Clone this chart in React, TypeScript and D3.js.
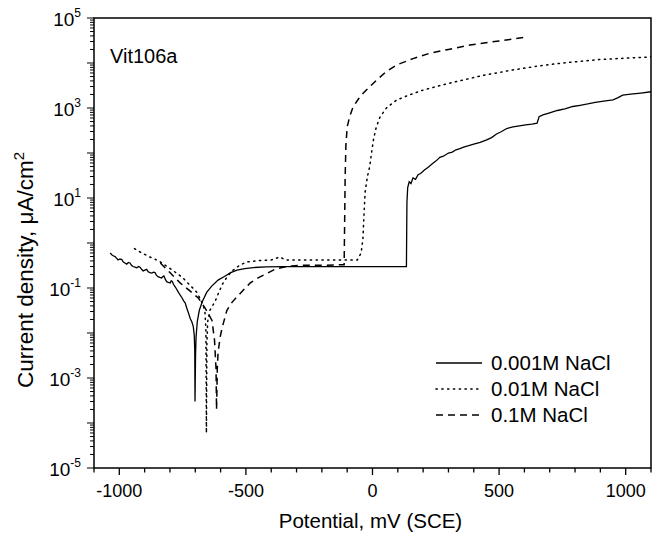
import React from 'react';
import * as d3 from 'd3';

// potential (mV) vs current density (uA/cm2)
const series001: [number, number][] = [
  [-1036, 0.6], [-1030, 0.55], [-1024, 0.52], [-1017, 0.5], [-1011, 0.46], [-1005, 0.42], [-998, 0.44],
  [-990, 0.43], [-985, 0.38], [-978, 0.36], [-971, 0.34], [-964, 0.37], [-958, 0.36], [-952, 0.32],
  [-946, 0.3], [-938, 0.29], [-931, 0.28], [-924, 0.3], [-918, 0.29], [-912, 0.26], [-906, 0.24],
  [-899, 0.25], [-892, 0.26], [-886, 0.23], [-879, 0.22], [-872, 0.215], [-865, 0.225], [-859, 0.22],
  [-853, 0.19], [-847, 0.178], [-840, 0.172], [-833, 0.167], [-828, 0.18], [-824, 0.185], [-818, 0.155],
  [-813, 0.138], [-806, 0.133], [-799, 0.129], [-795, 0.145], [-791, 0.14], [-785, 0.118], [-780, 0.107],
  [-774, 0.095], [-768, 0.083], [-760, 0.07], [-752, 0.06], [-746, 0.052], [-740, 0.047], [-733, 0.035],
  [-726, 0.027], [-720, 0.021], [-714, 0.018], [-708, 0.014], [-704, 0.009], [-702, 0.004], [-701, 0.0003],
  [-699, 0.003], [-697, 0.008], [-692, 0.018], [-684, 0.032], [-672, 0.05], [-655, 0.08], [-635, 0.11],
  [-610, 0.15], [-585, 0.18], [-560, 0.22], [-535, 0.25], [-505, 0.27], [-470, 0.285], [-420, 0.295],
  [-350, 0.3], [-200, 0.3], [0, 0.3], [134, 0.3], [136, 8], [139, 17], [145, 23], [152, 21], [160, 28],
  [170, 26], [180, 33], [190, 35], [205, 42], [220, 48], [235, 57], [250, 66], [266, 80], [280, 85],
  [300, 100], [315, 105], [330, 118], [345, 125], [360, 135], [380, 145], [400, 158], [425, 172],
  [451, 195], [470, 220], [490, 265], [510, 300], [530, 350], [555, 380], [580, 400], [605, 420],
  [630, 440], [650, 460], [658, 640], [673, 700], [700, 780], [730, 880], [760, 960], [791, 1080],
  [820, 1150], [850, 1230], [880, 1330], [920, 1440], [950, 1520], [970, 1700], [988, 1930], [1020, 2030],
  [1060, 2150], [1100, 2300],
];

const series01: [number, number][] = [
  [-940, 0.75], [-920, 0.64], [-900, 0.56], [-880, 0.49], [-860, 0.44], [-838, 0.38], [-815, 0.31],
  [-795, 0.26], [-772, 0.21], [-750, 0.17], [-730, 0.13], [-710, 0.1], [-694, 0.08], [-680, 0.057],
  [-670, 0.043], [-662, 0.031], [-658, 0.012], [-656, 0.00006], [-654, 0.006], [-651, 0.018],
  [-642, 0.032], [-622, 0.05], [-605, 0.085], [-590, 0.13], [-570, 0.19], [-550, 0.25], [-525, 0.32],
  [-496, 0.38], [-444, 0.41], [-400, 0.42], [-365, 0.49], [-345, 0.42], [-200, 0.42], [-100, 0.42],
  [-60, 0.42], [-45, 0.6], [-38, 1.2], [-33, 5], [-29, 14], [-20, 30], [-11, 50], [-4, 100],
  [4, 200], [15, 380], [29, 620], [55, 1000], [95, 1500], [150, 2000], [200, 2500], [280, 3300],
  [358, 4200], [450, 5500], [554, 7000], [650, 8500], [751, 10000], [900, 12000], [1083, 13500], [1100, 13700],
];

const series1: [number, number][] = [
  [-838, 0.36], [-800, 0.22], [-760, 0.13], [-720, 0.085], [-688, 0.06], [-660, 0.035], [-634, 0.019],
  [-624, 0.007], [-618, 0.0016], [-616, 0.0002], [-613, 0.0016], [-610, 0.0036], [-602, 0.008],
  [-594, 0.013], [-575, 0.032], [-555, 0.048], [-536, 0.063], [-510, 0.09], [-483, 0.13], [-450, 0.17],
  [-418, 0.21], [-385, 0.26], [-353, 0.29], [-320, 0.31], [-287, 0.32], [-200, 0.32], [-112, 0.33],
  [-110, 3], [-108, 30], [-105, 150], [-100, 380], [-90, 650], [-77, 1050], [-55, 1600], [-38, 2100],
  [-10, 3000], [17, 4200], [55, 6500], [96, 9100], [160, 12500], [227, 16500], [300, 20000],
  [385, 25000], [500, 31000], [614, 38000],
];

const seriesNames = ['0.001M NaCl', '0.01M NaCl', '0.1M NaCl'];
const seriesDash = ['none', '1.3,4.5', '7,5'];
const yLabelExps = [5, 3, 1, -1, -3, -5];
const xLabelTicks = [-1000, -500, 0, 500, 1000];

const W = 660, H = 534;
const m = { left: 94, top: 18, right: 9, bottom: 66 };
const FONT = '"Liberation Sans", Arial, Helvetica, sans-serif';

export default function App() {
  const x = d3.scaleLinear().domain([-1100, 1100]).range([m.left, W - m.right]);
  const y = d3.scaleLog().domain([1e-5, 1e5]).range([H - m.bottom, m.top]);
  const line = d3.line<[number, number]>().x(d => x(d[0])).y(d => y(d[1]));
  const all = [series001, series01, series1];

  const xMinor = d3.range(-1100, 1101, 100);
  const yMinor: number[] = [];
  for (let e = -5; e < 5; e++) for (let k = 1; k < 10; k++) yMinor.push(k * Math.pow(10, e));
  yMinor.push(1e5);

  const x0 = m.left, x1 = W - m.right, y0 = H - m.bottom, y1 = m.top;

  return (
    <svg width={W} height={H} style={{ position: 'absolute', left: 0, top: 0, background: '#fff' }}
      fontFamily={FONT}>
      <defs>
        <clipPath id="clip"><rect x={x0} y={y1} width={x1 - x0} height={y0 - y1} /></clipPath>
      </defs>
      <g clipPath="url(#clip)">
        {all.map((s, i) => (
          <path key={i} d={line(s) || ''} fill="none" stroke="#000" strokeWidth={i === 0 ? 1.3 : 1.5}
            strokeDasharray={seriesDash[i]} strokeLinecap={i === 1 ? 'round' : 'butt'} />
        ))}
      </g>
      <rect x={x0} y={y1} width={x1 - x0} height={y0 - y1} fill="none" stroke="#000" strokeWidth={1.5} />
      {/* x ticks */}
      {xMinor.map(v => (
        <line key={'xt' + v} x1={x(v)} x2={x(v)} y1={y0} y2={y0 + (v % 500 === 0 ? 7 : 4.5)} stroke="#000" strokeWidth={1.3} />
      ))}
      {xLabelTicks.map(v => (
        <text key={'xl' + v} x={x(v)} y={y0 + 29} textAnchor="middle" fontSize={18}>{v}</text>
      ))}
      {/* y ticks */}
      {yMinor.map((v, i) => {
        const major = Math.abs(Math.log10(v) - Math.round(Math.log10(v))) < 1e-9;
        return <line key={'yt' + i} x1={x0 - (major ? 7 : 4)} x2={x0} y1={y(v)} y2={y(v)} stroke="#000" strokeWidth={1} />;
      })}
      {yLabelExps.map(e => (
        <text key={'yl' + e} x={x0 - 13} y={y(Math.pow(10, e)) + 8} textAnchor="end" fontSize={19}>
          10<tspan dy={-9} fontSize={12}>{e}</tspan>
        </text>
      ))}
      <text x={(x0 + x1) / 2 - 2} y={H - 6} textAnchor="middle" fontSize={20.5}>Potential, mV (SCE)</text>
      <text transform={`translate(33,270) rotate(-90)`} textAnchor="middle" fontSize={22.5}>
        Current density, μA/cm<tspan dy={-9} fontSize={15}>2</tspan>
      </text>
      <text x={110} y={63} fontSize={20}>Vit106a</text>
      {seriesNames.map((n, i) => (
        <g key={n} transform={`translate(0,${363 + i * 26})`}>
          <line x1={436} x2={482} y1={0} y2={0} stroke="#000" strokeWidth={i === 0 ? 1.3 : 1.5}
            strokeDasharray={seriesDash[i]} strokeLinecap={i === 1 ? 'round' : 'butt'} />
          <text x={491} y={7} fontSize={20.5}>{n}</text>
        </g>
      ))}
    </svg>
  );
}
